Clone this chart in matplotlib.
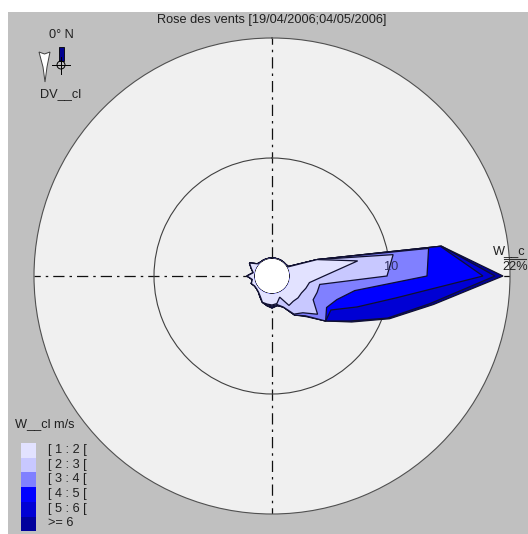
import numpy as np
import matplotlib
matplotlib.use("Agg")
import matplotlib.pyplot as plt
from matplotlib.patches import Rectangle, Circle, Polygon

plt.rcParams["font.family"] = ["Liberation Sans", "DejaVu Sans"]

title = "Rose des vents [19/04/2006;04/05/2006]"
classes = ["[ 1 : 2 [", "[ 2 : 3 [", "[ 3 : 4 [", "[ 4 : 5 [", "[ 5 : 6 [", ">= 6"]
colours = ["#e2e2ff", "#c8c8ff", "#8080ff", "#0000ff", "#0000d4", "#00009c"]

### direction in degrees from north, one value every 10 deg ###
directions = list(range(0, 360, 10))

### cumulated frequency in %, one list per wind class ###
c1 = [0, 0, 0, 0, 0, 0, 0, 3.0, 6.9, 3.4, 2.0, 1.8, 1.6, 1.6, 1.5, 1.6, 0.45, 1.0,
      1.1, 1.05, 1.0, 0.55, 0.3, 0.2, 0.2, 0.4, 0.2, 0.7, 0.1, 0.4, 0.8, 0.1, 0, 0, 0, 0]
c2 = [0, 0, 0, 0, 0, 0, 0, 3.0, 10.5, 9.7, 3.05, 3.0, 2.95, 4.15, 3.0, 2.6, 1.5, 1.1,
      1.2, 1.1, 1.0, 0.6, 0.3, 0.2, 0.2, 0.4, 0.2, 0.7, 0.1, 0.4, 0.8, 0.1, 0, 0, 0, 0]
c3 = [0, 0, 0, 0, 0, 0, 0.1, 3.0, 14.1, 13.7, 6.6, 5.1, 4.5, 5.2, 3.4, 2.7, 1.5, 1.2,
      1.3, 1.2, 1.0, 0.6, 0.3, 0.2, 0.2, 0.4, 0.2, 0.7, 0.1, 0.4, 0.8, 0.1, 0, 0, 0, 0]
c4 = [0, 0, 0, 0, 0, 0, 0.1, 3.0, 15.3, 19.3, 10.8, 7.25, 5.0, 5.2, 3.4, 2.7, 1.5, 1.2,
      1.4, 1.2, 1.0, 0.6, 0.3, 0.2, 0.2, 0.4, 0.2, 0.7, 0.1, 0.4, 0.8, 0.1, 0, 0, 0, 0]
c5 = [0, 0, 0, 0, 0, 0, 0.1, 3.0, 15.4, 20.5, 14.2, 10.5, 7.2, 5.2, 3.4, 2.7, 1.5, 1.2,
      1.4, 1.2, 1.0, 0.6, 0.3, 0.2, 0.2, 0.4, 0.2, 0.7, 0.1, 0.4, 0.8, 0.1, 0, 0, 0, 0]
c6 = [0, 0, 0, 0, 0, 0, 0.1, 3.0, 15.4, 21.3, 14.6, 10.7, 7.4, 5.2, 3.5, 2.7, 1.5, 1.2,
      1.4, 1.2, 1.0, 0.6, 0.3, 0.2, 0.2, 0.4, 0.2, 0.7, 0.1, 0.4, 0.8, 0.1, 0, 0, 0, 0]
layers = [c1, c2, c3, c4, c5, c6]

W, H = 528, 534
cx, cy, R = 272, 276, 238

fig = plt.figure(figsize=(W / 100, H / 100), dpi=100, facecolor="white")

### background canvas in pixels ###
bg = fig.add_axes([0, 0, 1, 1], zorder=0)
bg.set_xlim(0, W)
bg.set_ylim(H, 0)
bg.axis("off")
bg.add_patch(Rectangle((8, 12), W - 8, H - 12, fc="#c0c0c0", ec="none"))
### polar axes leave the centre open, the hole is painted behind it ###
bg.add_patch(Circle((cx, cy), 18, fc="white", ec="#101010", lw=1))

### the rose ###
ax = fig.add_axes([(cx - R) / W, 1 - (cy + R) / H, 2 * R / W, 2 * R / H],
                  projection="polar", zorder=1)
ax.set_facecolor("#f0f0f0")
ax.set_theta_zero_location("N")
ax.set_theta_direction(-1)
ax.set_rorigin(-1.8)
ax.set_rlim(0, 22)
ax.set_thetagrids([0, 90, 180, 270], labels=[])
ax.set_rgrids([10], labels=[])
ax.grid(True, axis="x", color="#101010", lw=0.9, ls=(0, (9, 4, 2, 4)))
ax.grid(True, axis="y", color="#404040", lw=0.8, ls="-")
ax.set_axisbelow(True)
ax.spines["polar"].set_color("#505050")
ax.spines["polar"].set_linewidth(0.8)
ax.spines["inner"].set_visible(False)

theta = np.radians(directions)
for vals, col in reversed(list(zip(layers, colours))):
    ax.fill(theta, vals, fc=col, ec="#101030", lw=0.9, zorder=3)

### overlay for texts and keys ###
top = fig.add_axes([0, 0, 1, 1], zorder=2)
top.set_xlim(0, W)
top.set_ylim(H, 0)
top.axis("off")

fs = 9.2
tc = "#202020"
top.text(272, 20, title, ha="center", va="center", fontsize=fs, color=tc)
top.text(391, 267, "10", ha="center", va="center", fontsize=fs, color="#303060")
top.text(509, 251, "W__c", ha="center", va="center", fontsize=fs, color=tc)
top.text(515, 267, "22%", ha="center", va="center", fontsize=fs, color=tc)
top.plot([504, 526], [259, 259], color="#303030", lw=0.8)

### compass key ###
top.text(61, 35, "0° N", ha="center", va="center", fontsize=fs, color=tc)
top.text(61, 94, "DV__cl", ha="center", va="center", fontsize=fs, color=tc)
top.add_patch(Rectangle((59, 47), 4.5, 14, fc="#000090", ec="black", lw=0.6))
top.add_patch(Circle((61, 65), 4, fc="none", ec="black", lw=0.7))
top.plot([52, 70], [65, 65], color="black", lw=0.7)
top.plot([61, 61], [57, 74], color="black", lw=0.7)
top.add_patch(Polygon([(39, 52), (44.5, 54), (50, 52), (47, 67), (45, 82), (43, 67)],
                      closed=True, fc="white", ec="#404040", lw=0.7))

### speed legend ###
top.text(15, 424, "W__cl m/s", ha="left", va="center", fontsize=fs, color=tc)
for i, (lab, col) in enumerate(zip(classes, colours)):
    y0 = 443 + i * 14.7
    top.add_patch(Rectangle((21, y0), 15, 14.7, fc=col, ec="none"))
    top.text(48, y0 + 7, lab, ha="left", va="center", fontsize=fs, color=tc)

fig.savefig("out.png", dpi=100)
